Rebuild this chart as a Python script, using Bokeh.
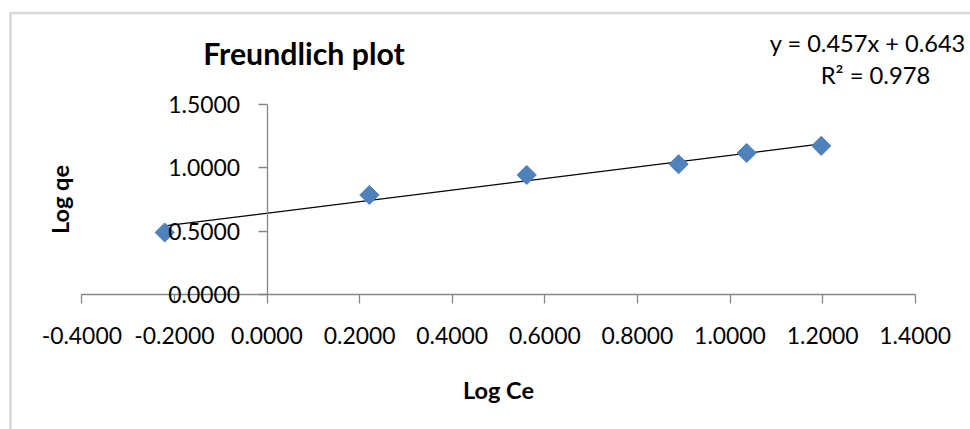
from bokeh.plotting import figure
from bokeh.models import (LinearAxis, FixedTicker, PrintfTickFormatter, Range1d,
                          Label, BoxAnnotation, ColumnDataSource)
from bokeh.embed import file_html
from bokeh.resources import INLINE
import math

# Freundlich isotherm data (log-transformed)
log_ce = [-0.221, 0.221, 0.561, 0.889, 1.036, 1.197]
log_qe = [0.490, 0.787, 0.945, 1.030, 1.119, 1.175]

# linear trendline reported on the chart
slope = 0.457
intercept = 0.643
r_squared = 0.978

x_ticks = [-0.4, -0.2, 0.0, 0.2, 0.4, 0.6, 0.8, 1.0, 1.2, 1.4]
y_ticks = [0.0, 0.5, 1.0, 1.5]

FONT = "Lato"
AXIS_GREY = "#868686"

p = figure(width=970, height=429, output_backend="svg", toolbar_location=None,
           x_axis_type=None, y_axis_type=None, min_border=0,
           x_range=Range1d(-0.5756, 1.5194), y_range=Range1d(-1.0672, 2.3241))
p.grid.visible = False
p.outline_line_color = None
p.background_fill_color = "white"
p.border_fill_color = "white"

# chart-area border
p.add_layout(BoxAnnotation(left=-0.5540, top=2.2253, right=3.0, bottom=-3.0,
                           fill_color=None, line_color="#7f7f7f", line_width=2.5))

xaxis = LinearAxis(fixed_location=0, bounds=(-0.4, 1.4),
                   ticker=FixedTicker(ticks=x_ticks),
                   formatter=PrintfTickFormatter(format="%.4f"),
                   axis_label="Log Ce")
yaxis = LinearAxis(fixed_location=0, bounds=(0, 1.5),
                   ticker=FixedTicker(ticks=y_ticks),
                   formatter=PrintfTickFormatter(format="%.4f"),
                   axis_label="Log qe")
for ax in (xaxis, yaxis):
    ax.axis_line_color = AXIS_GREY
    ax.axis_line_width = 1.3
    ax.major_tick_line_color = AXIS_GREY
    ax.major_tick_line_width = 1.3
    ax.major_tick_in = 0
    ax.major_tick_out = 9
    ax.minor_tick_line_color = None
    ax.major_label_text_font = FONT
    ax.major_label_text_font_size = "22.9px"
    ax.major_label_text_color = "black"
    ax.axis_label_text_font = FONT
    ax.axis_label_text_font_style = "bold"
    ax.axis_label_text_font_size = "23.5px"
    ax.axis_label_text_color = "black"
xaxis.major_label_standoff = 24
xaxis.axis_label_standoff = 28
yaxis.major_label_standoff = 18
yaxis.axis_label_standoff = 92
p.add_layout(xaxis, "below")
p.add_layout(yaxis, "left")

# trendline across the data span
x0, x1 = min(log_ce), max(log_ce)
p.line([x0, x1], [slope * x0 + intercept, slope * x1 + intercept],
       line_color="black", line_width=1.3)

src = ColumnDataSource(dict(x=log_ce, y=log_qe))
p.scatter("x", "y", source=src, marker="square", size=13.5, angle=math.pi / 4,
          fill_color="#4F81BD", line_color="#4A7EBB", line_width=1)

p.add_layout(Label(x=0.0799, y=1.906, text="Freundlich plot", text_font=FONT,
                   text_font_style="bold", text_font_size="30.3px",
                   text_align="center", text_baseline="alphabetic",
                   text_color="black"))
# regression equation, kept right-aligned just inside the canvas edge
p.add_layout(Label(x=1.5094, y=1.987,
                   text=f"y = {slope:.3f}x + {intercept:.3f}", text_font=FONT,
                   text_font_size="23.6px", text_align="right",
                   text_baseline="alphabetic", text_color="black"))
p.add_layout(Label(x=1.3143, y=1.732, text=f"R\u00b2 = {r_squared:.3f}",
                   text_font=FONT, text_font_size="23.8px", text_align="center",
                   text_baseline="alphabetic", text_color="black"))

open("out.html", "w").write(file_html(p, INLINE))
